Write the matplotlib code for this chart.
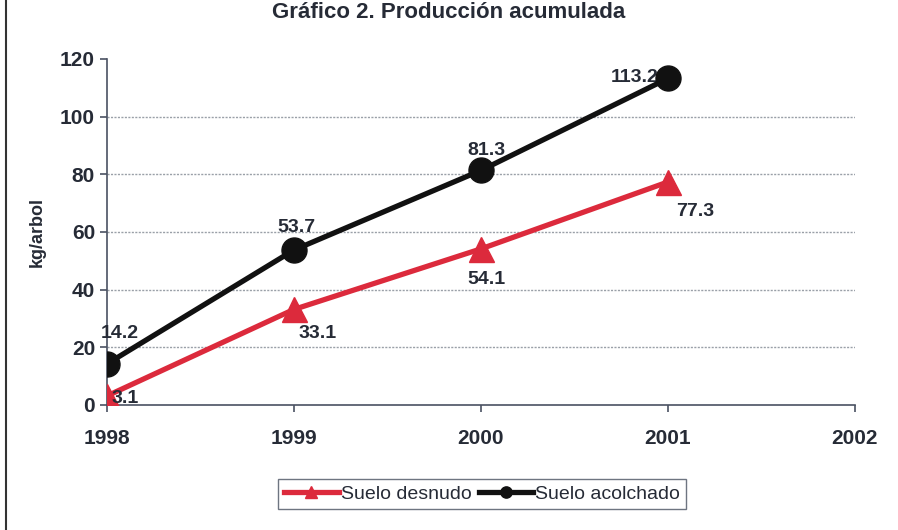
import matplotlib
matplotlib.use("Agg")
import matplotlib.pyplot as plt
from matplotlib.lines import Line2D

plt.rcParams['font.family'] = ['Liberation Sans', 'DejaVu Sans']

years = [1998, 1999, 2000, 2001]
desnudo = [3.1, 33.1, 54.1, 77.3]
acolchado = [14.2, 53.7, 81.3, 113.2]
desnudo_lbl = ["3.1", "33.1", "54.1", "77.3"]
acolchado_lbl = ["14.2", "53.7", "81.3", "113.2"]

red = '#dc2a3c'
blk = '#111111'
axcol = '#4a5262'
txtcol = '#262b36'

fig = plt.figure(figsize=(8.98, 5.30), dpi=100)
ax = fig.add_axes([0.119, 0.236, 0.833, 0.653])

l1, = ax.plot(years, desnudo, color=red, lw=3.8, marker='^', ms=18,
              zorder=3, label='Suelo desnudo')
l2, = ax.plot(years, acolchado, color=blk, lw=3.8, marker='o', ms=18,
              zorder=4, label='Suelo acolchado')

# label offsets in points
off_blk = [(9, 22), (2, 16), (4, 14), (-24, 1)]
off_red = [(13, -2), (17, -17), (4, -22), (20, -21)]
for x, y, s, o in zip(years, acolchado, acolchado_lbl, off_blk):
    ax.annotate(s, (x, y), xytext=o, textcoords='offset points',
                ha='center', va='center', fontsize=14, fontweight='bold',
                color=txtcol, zorder=3)
for x, y, s, o in zip(years, desnudo, desnudo_lbl, off_red):
    ax.annotate(s, (x, y), xytext=o, textcoords='offset points',
                ha='center', va='center', fontsize=14, fontweight='bold',
                color=txtcol, zorder=5)

ax.set_xlim(1998, 2002)
ax.set_ylim(0, 120)
ax.set_xticks([1998, 1999, 2000, 2001, 2002])
ax.set_yticks(range(0, 121, 20))
for g in range(20, 101, 20):
    ax.axhline(g, color='#9aa0a8', lw=1.0, ls=(0, (1.5, 1)), zorder=1)

for s in ['top', 'right']:
    ax.spines[s].set_visible(False)
for s in ['left', 'bottom']:
    ax.spines[s].set_color(axcol)
    ax.spines[s].set_linewidth(1.2)
ax.tick_params(colors=axcol, width=1.2, length=5, labelsize=15,
               labelcolor=txtcol)
ax.tick_params(axis='x', pad=12)
for t in ax.get_xticklabels() + ax.get_yticklabels():
    t.set_fontweight('bold')

ax.set_ylabel('kg/arbol', fontsize=13, fontweight='bold', color=txtcol,
              labelpad=10)

fig.text(0.5, 1 - 2/530, u'Gráfico 2. Producción acumulada', ha='center',
         va='top', fontsize=16, fontweight='bold', color=txtcol)

fig.add_artist(Line2D([6/898, 6/898], [0, 1], color='#333333', lw=1.5))

leg = fig.legend(handles=[l1, l2], loc='center', bbox_to_anchor=(0.537, 0.068),
                 ncol=2, fontsize=14, frameon=True, fancybox=False,
                 handlelength=2.8, handletextpad=0.1, columnspacing=0.4,
                 borderpad=0.3, markerscale=0.45)
leg.get_frame().set_edgecolor(axcol)
leg.get_frame().set_linewidth(1.0)
for t in leg.get_texts():
    t.set_color(txtcol)

fig.savefig('out.png', dpi=100)
